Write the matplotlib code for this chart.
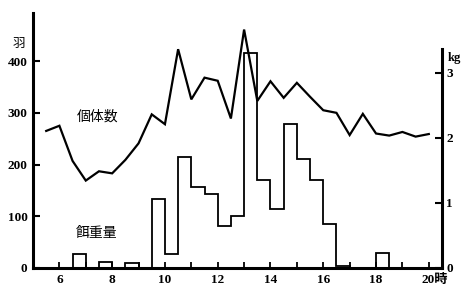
import numpy as np
import matplotlib
matplotlib.use("Agg")
import matplotlib.pyplot as plt

plt.rcParams['font.family'] = ['Liberation Serif', 'Noto Sans CJK JP', 'DejaVu Sans']

# 個体数 (birds) vs hour
count_hours = [5.5, 6, 6.5, 7, 7.5, 8, 8.5, 9, 9.5, 10, 10.5, 11, 11.5, 12, 12.5,
               13, 13.5, 14, 14.5, 15, 15.5, 16, 16.5, 17, 17.5, 18, 18.5, 19, 19.5, 20]
count_vals = [265, 275, 207, 169, 187, 183, 209, 241, 297, 278, 423, 326, 368, 362, 289,
              461, 323, 361, 329, 358, 331, 305, 300, 257, 298, 260, 256, 263, 254, 259]

# 餌重量 (kg) per half-hour bin, bin start hours
feed_start = [5.0, 5.5, 6.0, 6.5, 7.0, 7.5, 8.0, 8.5, 9.0, 9.5, 10.0, 10.5, 11.0, 11.5,
              12.0, 12.5, 13.0, 13.5, 14.0, 14.5, 15.0, 15.5, 16.0, 16.5, 17.0, 17.5,
              18.0, 18.5, 19.0, 19.5, 20.0]
feed_kg = [0, 0, 0, 0.21, 0, 0.09, 0, 0.08, 0, 1.06, 0.21, 1.70, 1.24, 1.13,
           0.64, 0.80, 3.30, 1.36, 0.91, 2.21, 1.67, 1.36, 0.68, 0.03, 0, 0,
           0.23, 0, 0, 0, 0]

left_ticks = [0, 100, 200, 300, 400]
right_ticks = [0, 1, 2, 3]
x_tick_labels = [6, 8, 10, 12, 14, 16, 18]

W, H = 471, 294
fig = plt.figure(figsize=(W / 100, H / 100), dpi=100)
x0, x1 = 33, 442
ybot, ytop = 268, 13
ax = fig.add_axes([x0 / W, (H - ybot) / H, (x1 - x0) / W, (ybot - ytop) / H])
ax.patch.set_alpha(0)

ax.set_xlim(5, 20.5)
ax.set_ylim(0, 493)
ax2 = ax.twinx()
ax2.set_ylim(0, 3.92)

ax.plot(count_hours, count_vals, color='black', lw=1.6, solid_joinstyle='miter', zorder=3)

edges = list(feed_start) + [feed_start[-1] + 0.5]
ax2.stairs(feed_kg, edges, baseline=0, fill=False, color='black', lw=1.3, zorder=3)

for s in ['top']:
    ax.spines[s].set_visible(False)
    ax2.spines[s].set_visible(False)
ax2.spines['left'].set_visible(False)
ax2.spines['bottom'].set_visible(False)
ax.spines['right'].set_visible(False)
for s in ['left', 'bottom']:
    ax.spines[s].set_linewidth(2.2)
ax2.spines['right'].set_linewidth(2.2)
ax2.spines['right'].set_bounds(0, 3.36)

numfont = dict(family=['Liberation Serif', 'DejaVu Serif'], weight='bold', size=9.5)

ax.set_yticks(left_ticks)
ax.set_yticklabels([str(v) for v in left_ticks], **numfont)
ax.tick_params(axis='y', direction='in', length=5, width=1.5, pad=4)

ax.set_xticks(np.arange(6, 21, 1))
ax.set_xticklabels([str(h) if h in x_tick_labels else '' for h in range(6, 21)], **numfont)
ax.tick_params(axis='x', direction='in', length=4, width=1.3, pad=4)

ax2.set_yticks(right_ticks)
ax2.set_yticklabels([str(v) for v in right_ticks], **numfont)
ax2.tick_params(axis='y', direction='in', length=5, width=1.5, pad=3)

# labels
ax.text(20.24, -0.047, '20時', transform=ax.get_xaxis_transform(), ha='center', va='center',
        fontsize=9.5, fontweight='bold', family=['Liberation Serif', 'Noto Sans CJK JP'], clip_on=False)
ax.text(4.48, 435, '羽', ha='center', va='center', fontsize=9,
        family=['Noto Sans CJK JP'], clip_on=False)
ax2.text(20.98, 3.23, 'kg', ha='center', va='center', fontsize=9, fontweight='bold',
         family=['Liberation Serif'], clip_on=False)
ax.text(7.44, 292, '個体数', ha='center', va='center', fontsize=10,
        family=['Noto Sans CJK JP'])
ax.text(7.41, 68, '餌重量', ha='center', va='center', fontsize=10,
        family=['Noto Sans CJK JP'])

fig.savefig('out.png', dpi=100)
